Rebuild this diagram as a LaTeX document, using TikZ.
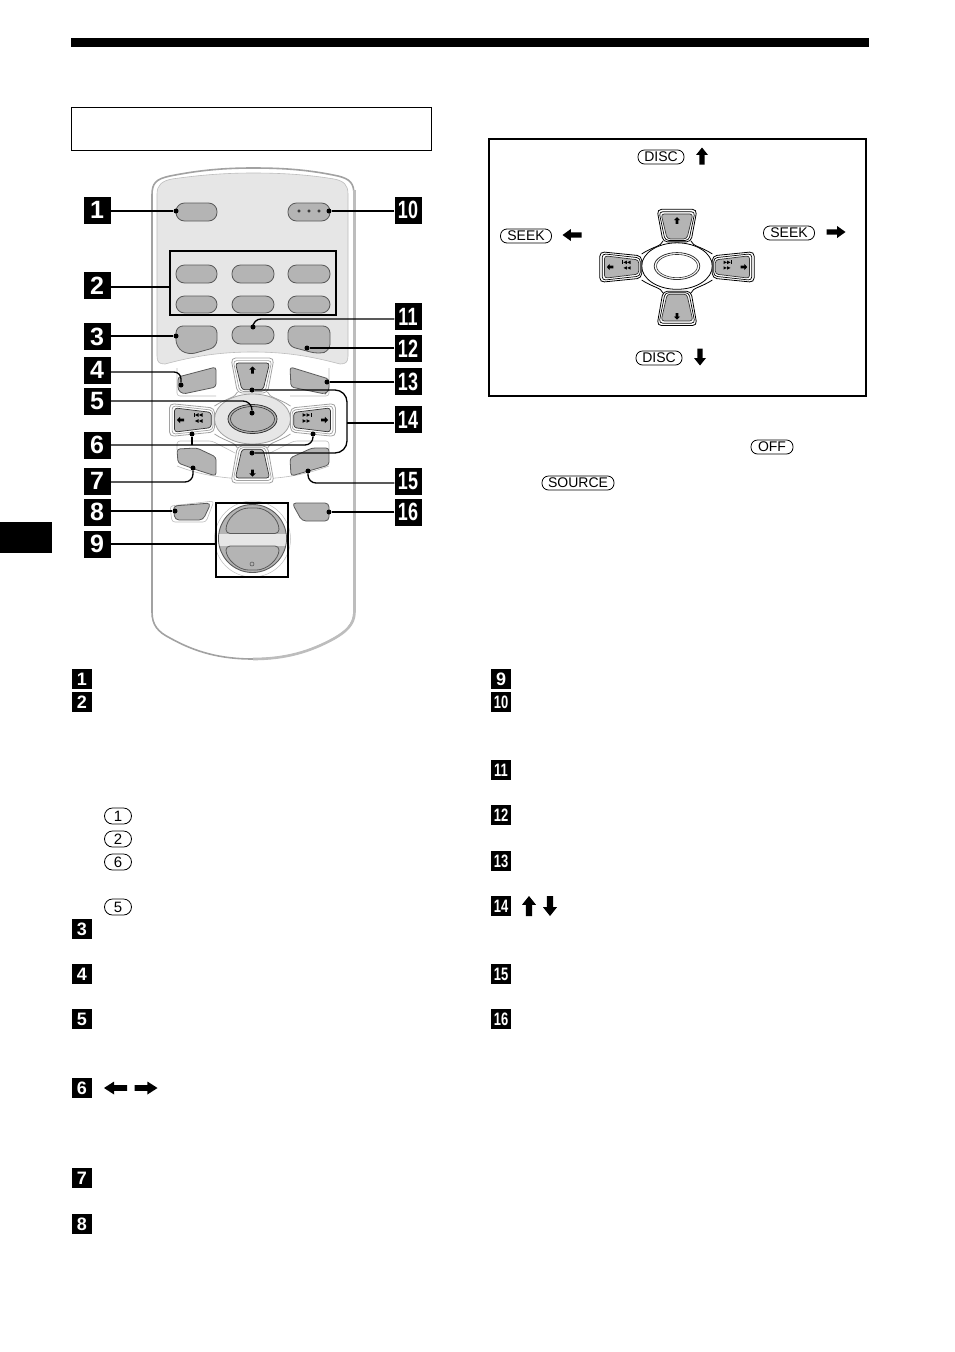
\documentclass[tikz,border=0pt]{standalone}
\usepackage{graphicx}
\usepackage{fontspec}
\setmainfont{Liberation Sans}
\definecolor{btn}{HTML}{B4B4B4}
\definecolor{pan}{HTML}{E6E6E6}
\definecolor{edge}{HTML}{5A5A5A}
\definecolor{soft}{HTML}{BDBDBD}
\definecolor{shell}{HTML}{A2A2A2}
\tikzset{
  bigbadge/.style={fill=black,text=white,minimum width=27pt,minimum height=27pt,inner sep=0pt,font=\fontsize{25}{25}\selectfont\bfseries},
  smallbadge/.style={fill=black,text=white,minimum width=20pt,minimum height=20pt,inner sep=0pt,font=\fontsize{18}{18}\selectfont\bfseries},
  keycap/.style={draw=black,line width=.8pt,rounded corners=6.5pt,inner sep=0pt,minimum height=14pt,font=\fontsize{14}{14}\selectfont},
  digitcap/.style={keycap,minimum width=27pt,minimum height=16pt,rounded corners=8pt,font=\fontsize{15}{15}\selectfont},
  conn/.style={draw=black,line width=1.3pt},
  dotpt/.style={circle,fill=black,inner sep=0pt,minimum size=5pt},
  framebox/.style={draw=black,line width=1.3pt},
  rbtn/.style={draw=edge,fill=btn,line width=.8pt},
  pill/.style={rbtn,rounded corners=8.5pt},
}
\newcommand{\blockarrow}[5]{% x y rot len headwidth
  \fill[black] (#1,#2) ++(#3:0pt) [rotate around={#3:(#1,#2)}]
    ++(-#4/2,-#5*0.22) -- ++(#4*0.56,0) -- ++(0,-#5*0.28) -- ++(#4*0.44,#5*0.5) -- ++(-#4*0.44,#5*0.5) -- ++(0,-#5*0.28) -- ++(-#4*0.56,0) -- cycle;}
\newcommand{\padbtn}[5]{% rot, half width at outer end, half width at inner end, outer depth, inner depth
  \begin{scope}[rotate=#1,y=1pt,x=1pt]
    \draw[fill=white,draw=\padcol,line width=.8pt,rounded corners=4.5pt]
      (-#3,#5) -- (-#2,#4) -- (#2,#4) -- (#3,#5) -- cycle;
    \draw[fill=white,draw=\padcol,line width=.7pt,rounded corners=3.5pt]
      (-#3+2.2,#5-1.6) -- (-#2+2.2,#4+2.6) -- (#2-2.2,#4+2.6) -- (#3-2.2,#5-1.6) -- cycle;
    \draw[fill=btn,draw=black!80,line width=.7pt,rounded corners=3pt]
      (-#3+4.4,#5-3.2) -- (-#2+4.4,#4+5) -- (#2-4.4,#4+5) -- (#3-4.4,#5-3.2) -- cycle;
  \end{scope}}
\newcommand{\tri}[2]{\fill[black] (#1,#2-1.8) -- (#1+3.6,#2) -- (#1,#2+1.8) -- cycle;}
\newcommand{\ltri}[2]{\fill[black] (#1,#2-1.8) -- (#1-3.6,#2) -- (#1,#2+1.8) -- cycle;}
\newcommand{\dpad}{%
  \draw[\padcol,line width=.8pt] (-15,-28) .. controls (-17,-22) and (-26,-22) .. (-38,-14)
     (15,-28) .. controls (17,-22) and (26,-22) .. (38,-14)
     (-15,28) .. controls (-17,22) and (-26,22) .. (-38,14)
     (15,28) .. controls (17,22) and (26,22) .. (38,14);
  \draw[\padcol,line width=.8pt,fill=\padfill] (0,-1) ellipse (38pt and 25pt);
  \draw[fill=\padoval,draw=black!80,line width=.8pt] (0,-1) ellipse (24.5pt and 14.5pt);
  \draw[draw=black!80,line width=.6pt] (0,-1) ellipse (22pt and 12.5pt);
  \padbtn{180}{21.5}{15}{-62}{-27}
  \padbtn{0}{21.5}{15}{-63}{-26}
  \padbtn{-90}{16.5}{12}{-83}{-38}
  \padbtn{90}{16.5}{12}{-83}{-38}
  \blockarrow{0}{-50}{90}{7}{6.5}
  \blockarrow{0}{53}{-90}{7}{6.5}
  \blockarrow{-72}{0}{180}{7}{6.5}
  \blockarrow{72}{0}{0}{7}{6.5}
  \ltri{-54}{-5}\ltri{-50}{-5}\fill (-59,-7) rectangle (-58,-3);\ltri{-54}{1}\ltri{-50}{1}
  \tri{50}{-5}\tri{54}{-5}\fill (58,-7) rectangle (59,-3);\tri{50}{1}\tri{54}{1}
}
\begin{document}
\begin{tikzpicture}[x=1pt,y=-1pt]
\fill[white] (0,0) rectangle (954,1352);
\useasboundingbox (0,0) rectangle (954,1352);
% page furniture
\fill[black] (71,38) rectangle (869,47);
\fill[black] (0,522) rectangle (52,553);
\draw[black,line width=.9pt] (71,107) rectangle (431,150);

% remote body
\draw[fill=white,draw=shell,line width=1.6pt]
 (152,195) .. controls (152,183) and (156,179) .. (170,176) .. controls (200,170) and (225,168) .. (253,168)
 .. controls (285,168) and (310,170) .. (338,176) .. controls (350,179) and (354,183) .. (354,195) -- (354,612)
 .. controls (354,625) and (345,632) .. (335,638) .. controls (310,652) and (285,659) .. (253,659)
 .. controls (220,659) and (195,652) .. (170,638) .. controls (158,632) and (152,625) .. (152,612) -- cycle;
\draw[soft,line width=2.6pt] (354.5,190) -- (354.5,612) .. controls (354.5,625) and (345,632) .. (335,638)
 .. controls (310,652) and (285,659) .. (253,659);
\draw[fill=pan,draw=soft,line width=.6pt]
 (157,194) .. controls (157,185) and (162,181) .. (172,179) .. controls (200,175) and (225,173) .. (253,173)
 .. controls (285,173) and (310,175) .. (334,179) .. controls (344,181) and (348,185) .. (348,194) -- (348,356)
 .. controls (348,362) and (346,364) .. (340,364) .. controls (310,356) and (285,352) .. (253,352)
 .. controls (220,352) and (195,356) .. (165,364) .. controls (159,364) and (157,362) .. (157,356) -- cycle;

% upper buttons
\draw[pill] (176,203) rectangle (217,221);
\draw[pill] (288,203) rectangle (330,221);
\draw[black,fill=pan,line width=.5pt] (299,211) circle (1.3pt) (309,211) circle (1.3pt) (319,211) circle (1.3pt);
\foreach \yy/\zz in {265/283,296/313}{
  \draw[pill] (176,\yy) rectangle (217,\zz);
  \draw[pill] (232,\yy) rectangle (274,\zz);
  \draw[pill] (288,\yy) rectangle (330,\zz);
}
\draw[pill] (232,326) rectangle (274,344);
\draw[rbtn,rounded corners=7pt] (176,326) -- (217,326) -- (217,347) -- (188,355) -- (176,347) -- cycle;
\draw[rbtn,rounded corners=7pt] (288,326) -- (330,326) -- (330,351) -- (318,354) -- (288,346) -- cycle;

% lower soft surround
\draw[soft,line width=.6pt,rounded corners=3pt] (177,368) -- (177,396) -- (216,396);
\draw[soft,line width=.6pt,rounded corners=3pt] (329,368) -- (329,396) -- (290,396);
\draw[soft,line width=.6pt,rounded corners=3pt] (177,450) -- (177,441) -- (212,441) -- (235,453);
\draw[soft,line width=.6pt,rounded corners=3pt] (329,450) -- (329,441) -- (294,441) -- (270,453);
\draw[soft,line width=.6pt] (177,466) .. controls (200,475) and (225,479) .. (253,479) .. controls (280,479) and (305,475) .. (329,466);

% d-pad, remote
\begin{scope}[shift={(252.5,420)}]
  \def\padcol{shell}\def\padfill{pan}\def\padoval{btn}
  \dpad
\end{scope}

% shoulder buttons
\draw[rbtn,rounded corners=3pt] (178,377) -- (216,367) -- (216,387) -- (183,394) -- (178,390) -- cycle;
\draw[rbtn,rounded corners=3pt] (290,367) -- (329,379) -- (329,390) -- (325,394) -- (291,387) -- cycle;
\draw[rbtn,rounded corners=3pt] (177,449) -- (197,448) -- (216,457) -- (216,476) -- (197,470) -- (178,463) -- cycle;
\draw[rbtn,rounded corners=3pt] (290,458) -- (312,448) -- (329,448) -- (329,465) -- (312,470) -- (291,476) -- cycle;
\draw[soft,line width=.6pt,rounded corners=3pt] (170,506) -- (214,501) -- (206,522) -- (172,522) -- cycle;
\draw[rbtn,rounded corners=4pt] (173,506) -- (211,503) -- (203,520) -- (175,520) -- cycle;
\draw[rbtn,rounded corners=4pt] (292,503) -- (329,503) -- (329,521) -- (302,521) -- cycle;

% dial
\draw[soft,line width=.5pt] (252.5,539) circle (38pt);
\draw[fill=btn,draw=edge,line width=.9pt] (252.5,538.5) circle (34pt);
\begin{scope}
  \clip (252.5,538.5) circle (33.5pt);
  \fill[pan] (215,533.5) rectangle (290,545.5);
\end{scope}
\draw[rbtn,rounded corners=4pt] (226,533.5) .. controls (226,519) and (238,508) .. (252.5,508) .. controls (267,508) and (279,519) .. (279,533.5) -- cycle;
\draw[rbtn,rounded corners=4pt] (226,546) .. controls (226,559) and (238,570) .. (252.5,570) .. controls (267,570) and (279,559) .. (279,546) -- cycle;
\draw[black!70,line width=.5pt] (252,564) circle (2pt);

% callout boxes
\draw[framebox] (170,251) rectangle (336,315);
\node[draw=black,line width=1.3pt,fill=none,minimum width=72pt,minimum height=74pt,inner sep=0pt] (b9) at (252,540) {};
\node[minimum width=166pt,minimum height=64pt,inner sep=0pt] (b2) at (253,283) {};

% numbered labels
\node[bigbadge] (n1) at (97,210) {1};
\node[bigbadge] (n2) at (97,285.5) {2};
\node[bigbadge] (n3) at (97,336.5) {3};
\node[bigbadge] (n4) at (97,370) {4};
\node[bigbadge] (n5) at (97,401) {5};
\node[bigbadge] (n6) at (97,445) {6};
\node[bigbadge] (n7) at (97,481) {7};
\node[bigbadge] (n8) at (97,512) {8};
\node[bigbadge] (n9) at (97,544) {9};
\node[bigbadge] (n10) at (408,210) {\scalebox{.72}[1]{10}};
\node[bigbadge] (n11) at (408,316.5) {\scalebox{.72}[1]{11}};
\node[bigbadge] (n12) at (408,348.5) {\scalebox{.72}[1]{12}};
\node[bigbadge] (n13) at (408,381.5) {\scalebox{.72}[1]{13}};
\node[bigbadge] (n14) at (408,419.5) {\scalebox{.72}[1]{14}};
\node[bigbadge] (n15) at (408,481.5) {\scalebox{.72}[1]{15}};
\node[bigbadge] (n16) at (408,512) {\scalebox{.72}[1]{16}};

% connector ends
\node[dotpt] (d1) at (176,211) {};
\node[dotpt] (d10) at (329,211) {};
\node[dotpt] (d3) at (176,336) {};
\node[dotpt] (d4) at (181,385) {};
\node[dotpt] (d5) at (252,413) {};
\node[dotpt] (d6l) at (192,434) {};
\node[dotpt] (d6r) at (313,434) {};
\node[dotpt] (d7) at (193,468) {};
\node[dotpt] (d8) at (175,511) {};
\node[dotpt] (d11) at (253,327) {};
\node[dotpt] (d12) at (307,348) {};
\node[dotpt] (d13) at (327,382) {};
\node[dotpt] (d14u) at (252,390) {};
\node[dotpt] (d14d) at (252,453) {};
\node[dotpt] (d15) at (308,471) {};
\node[dotpt] (d16) at (329,512) {};
\coordinate (c14) at (347,423);

% connectors
\draw[conn] (n1.east |- d1) -- (d1);
\draw[conn] (n10.west |- d10) -- (d10);
\draw[conn] ([yshift=-1.5pt]n2.east) -- ([yshift=-1.5pt]n2.east -| b2.west);
\draw[conn] (n3.east |- d3) -- (d3);
\draw[conn,rounded corners=7pt] ([yshift=-2pt]n4.east) -| (d4);
\draw[conn,rounded corners=9pt] (n5.east) -| (d5);
\draw[conn,rounded corners=8pt] (n6.east) -| (d6r);
\draw[conn] (n6.east -| d6l) -- (d6l);
\draw[conn,rounded corners=8pt] ([yshift=-1pt]n7.east) -| (d7);
\draw[conn] (n8.east |- d8) -- (d8);
\draw[conn] (n9.east |- n9.center) -- (n9.center -| b9.west);
\draw[conn,rounded corners=8pt] ([yshift=-2.5pt]n11.west) -| (d11);
\draw[conn] (n12.west |- d12) -- (d12);
\draw[conn] (n13.west |- d13) -- (d13);
\draw[conn,rounded corners=12pt] (d14u) -| (c14) |- (d14d);
\draw[conn] (n14.west |- c14) -- (c14);
\draw[conn,rounded corners=8pt] ([yshift=-1.5pt]n15.west) -| (d15);
\draw[conn] (n16.west |- d16) -- (d16);

% right diagram
\draw[framebox] (489,139) rectangle (866,396);
\begin{scope}[shift={(677,267)},scale=.93]
  \def\padcol{black}\def\padfill{white}\def\padoval{white}
  \dpad
\end{scope}
\node[keycap,minimum width=46pt] (kd1) at (661,157) {DISC};
\node[keycap,minimum width=46pt] (kd2) at (659,358) {DISC};
\node[keycap,minimum width=51pt] (ks1) at (526,236) {SEEK};
\node[keycap,minimum width=51pt] (ks2) at (789,233) {SEEK};
\blockarrow{702}{156}{90}{17}{12}
\blockarrow{700}{357}{-90}{17}{12}
\blockarrow{572}{235}{180}{19}{12}
\blockarrow{836}{232}{0}{19}{12}

\node[keycap,minimum width=42pt] (koff) at (772,447) {OFF};
\node[keycap,minimum width=72pt] (ksrc) at (578,483) {SOURCE};

% list, left column
\node[smallbadge] (l1) at (82,679) {1};
\node[smallbadge] (l2) at (82,702) {2};
\node[smallbadge] (l3) at (82,929) {3};
\node[smallbadge] (l4) at (82,974) {4};
\node[smallbadge] (l5) at (82,1019) {5};
\node[smallbadge] (l6) at (82,1088) {6};
\node[smallbadge] (l7) at (82,1178) {7};
\node[smallbadge] (l8) at (82,1224) {8};
\node[digitcap] (k1) at (118,816) {1};
\node[digitcap] (k2) at (118,839) {2};
\node[digitcap] (k6) at (118,862) {6};
\node[digitcap] (k5) at (118,907) {5};
\blockarrow{115.5}{1088}{180}{23}{13}
\blockarrow{146}{1088}{0}{23}{13}

% list, right column
\node[smallbadge] (r9) at (501,679) {9};
\node[smallbadge] (r10) at (501,702) {\scalebox{.72}[1]{10}};
\node[smallbadge] (r11) at (501,770) {\scalebox{.72}[1]{11}};
\node[smallbadge] (r12) at (501,815) {\scalebox{.72}[1]{12}};
\node[smallbadge] (r13) at (501,861) {\scalebox{.72}[1]{13}};
\node[smallbadge] (r14) at (501,906) {\scalebox{.72}[1]{14}};
\node[smallbadge] (r15) at (501,974) {\scalebox{.72}[1]{15}};
\node[smallbadge] (r16) at (501,1019) {\scalebox{.72}[1]{16}};
\blockarrow{529}{906}{90}{20}{14}
\blockarrow{550}{906}{-90}{20}{14}
\end{tikzpicture}
\end{document}
